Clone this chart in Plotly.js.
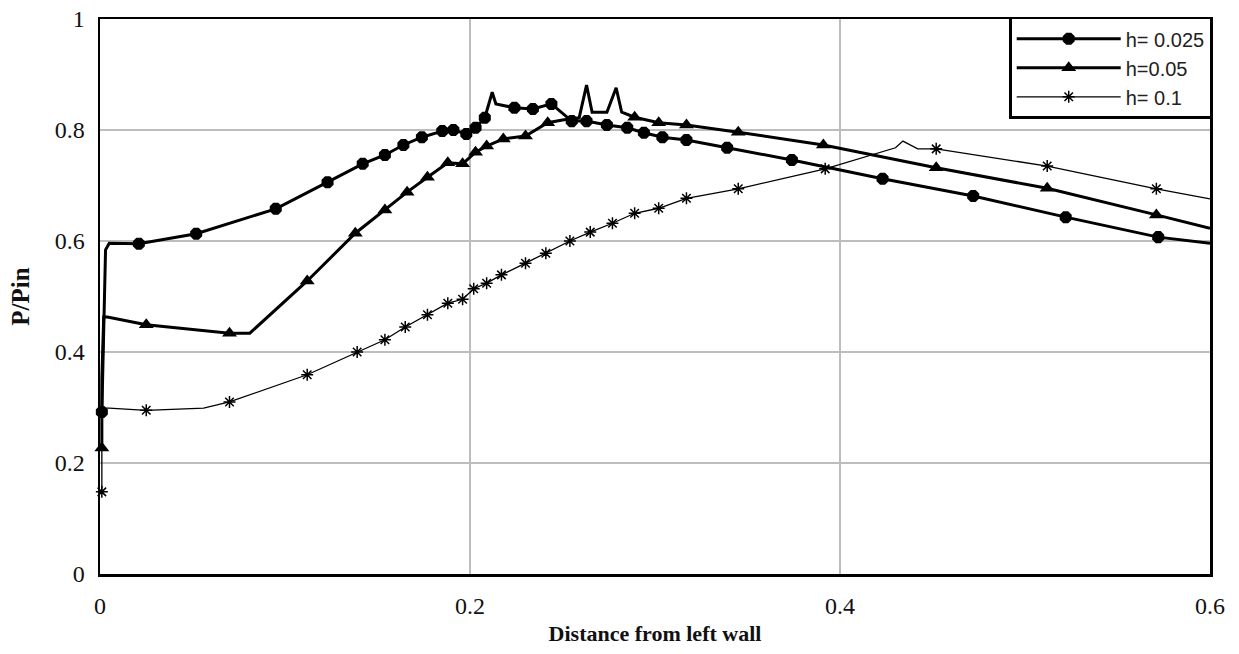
<!DOCTYPE html>
<html>
<head>
<meta charset="utf-8">
<script src="https://cdn.plot.ly/plotly-3.0.1.min.js"></script>
<style>html,body{margin:0;padding:0;background:#fff;}#chart{width:1239px;height:654px;}</style>
</head>
<body>
<div id="chart"></div>
<script>
// h = 0.025 : line path and marker points
const h025LineX = [0.001,0.002,0.003,0.005,0.021,0.052,0.095,0.123,0.142,0.154,0.164,0.174,0.185,0.191,0.198,0.203,0.208,0.212,0.214,0.224,0.234,0.244,0.255,0.263,0.274,0.285,0.294,0.304,0.317,0.339,0.374,0.423,0.472,0.522,0.572,0.6];
const h025LineY = [0.292,0.44,0.584,0.596,0.595,0.613,0.658,0.706,0.739,0.755,0.773,0.787,0.798,0.8,0.793,0.804,0.822,0.868,0.847,0.84,0.838,0.847,0.816,0.816,0.809,0.804,0.795,0.787,0.782,0.768,0.746,0.712,0.681,0.643,0.607,0.596];
const h025MarkX = [0.001,0.021,0.052,0.095,0.123,0.142,0.154,0.164,0.174,0.185,0.191,0.198,0.203,0.208,0.224,0.234,0.244,0.255,0.263,0.274,0.285,0.294,0.304,0.317,0.339,0.374,0.423,0.472,0.522,0.572];
const h025MarkY = [0.292,0.595,0.613,0.658,0.706,0.739,0.755,0.773,0.787,0.798,0.8,0.793,0.804,0.822,0.84,0.838,0.847,0.816,0.816,0.809,0.804,0.795,0.787,0.782,0.768,0.746,0.712,0.681,0.643,0.607];

// h = 0.05
const h05LineX = [0.001,0.001,0.002,0.004,0.025,0.07,0.081,0.112,0.138,0.154,0.166,0.177,0.188,0.196,0.203,0.209,0.218,0.23,0.242,0.25,0.259,0.263,0.266,0.274,0.279,0.282,0.289,0.302,0.317,0.345,0.391,0.452,0.512,0.571,0.6];
const h05LineY = [0.227,0.35,0.463,0.463,0.449,0.434,0.434,0.528,0.614,0.656,0.688,0.715,0.741,0.739,0.76,0.771,0.784,0.789,0.813,0.818,0.822,0.881,0.832,0.832,0.876,0.832,0.823,0.813,0.809,0.796,0.773,0.732,0.695,0.647,0.623];
const h05MarkX = [0.001,0.025,0.07,0.112,0.138,0.154,0.166,0.177,0.188,0.196,0.203,0.209,0.218,0.23,0.242,0.289,0.302,0.317,0.345,0.391,0.452,0.512,0.571];
const h05MarkY = [0.227,0.449,0.434,0.528,0.614,0.656,0.688,0.715,0.741,0.739,0.76,0.771,0.784,0.789,0.813,0.823,0.813,0.809,0.796,0.773,0.732,0.695,0.647];

// h = 0.1
const h1LineX = [0.001,0.001,0.005,0.025,0.056,0.07,0.112,0.139,0.154,0.165,0.177,0.188,0.196,0.202,0.209,0.217,0.23,0.241,0.254,0.265,0.277,0.289,0.302,0.317,0.345,0.392,0.43,0.434,0.442,0.452,0.512,0.571,0.6];
const h1LineY = [0.148,0.299,0.299,0.295,0.299,0.31,0.359,0.4,0.422,0.445,0.467,0.488,0.495,0.514,0.524,0.539,0.56,0.578,0.6,0.616,0.632,0.65,0.659,0.677,0.694,0.73,0.768,0.78,0.766,0.766,0.735,0.694,0.676];
const h1MarkX = [0.001,0.025,0.07,0.112,0.139,0.154,0.165,0.177,0.188,0.196,0.202,0.209,0.217,0.23,0.241,0.254,0.265,0.277,0.289,0.302,0.317,0.345,0.392,0.452,0.512,0.571];
const h1MarkY = [0.148,0.295,0.31,0.359,0.4,0.422,0.445,0.467,0.488,0.495,0.514,0.524,0.539,0.56,0.578,0.6,0.616,0.632,0.65,0.659,0.677,0.694,0.73,0.766,0.735,0.694];

const seriesNames = ['h= 0.025', 'h=0.05', 'h= 0.1'];
const xTicks = [0, 0.2, 0.4, 0.6];
const yTicks = [0, 0.2, 0.4, 0.6, 0.8, 1];

const styles = [
  {w: 3, sym: 'octagon', size: 13, lw: 0},
  {w: 3, sym: 'triangle-up', size: 13, lw: 0},
  {w: 1.3, sym: 'asterisk-open', size: 10, lw: 1.5}
];
const series = [
  [h025LineX, h025LineY, h025MarkX, h025MarkY],
  [h05LineX, h05LineY, h05MarkX, h05MarkY],
  [h1LineX, h1LineY, h1MarkX, h1MarkY]
];

const traces = [];
series.forEach((s, i) => {
  const st = styles[i];
  traces.push({x: s[0], y: s[1], mode: 'lines', type: 'scatter', showlegend: false,
    line: {color: '#000', width: st.w}, cliponaxis: false, hoverinfo: 'skip'});
  traces.push({x: s[2], y: s[3], mode: 'markers', type: 'scatter', showlegend: false,
    marker: {symbol: st.sym, size: st.size, color: '#000', line: {color: '#000', width: st.lw}}, cliponaxis: false});
});
series.forEach((s, i) => {
  const st = styles[i];
  traces.push({x: [null], y: [null], mode: 'lines+markers', type: 'scatter', name: seriesNames[i],
    line: {color: '#000', width: st.w},
    marker: {symbol: st.sym, size: st.size, color: '#000', line: {color: '#000', width: st.lw}}});
});

const serif = 'Liberation Serif, Times New Roman, serif';
const layout = {
  width: 1239, height: 654,
  margin: {l: 100, r: 29, t: 19, b: 80},
  paper_bgcolor: '#fff', plot_bgcolor: '#fff',
  showlegend: true,
  legend: {x: 1.002, xanchor: 'right', y: 1.004, yanchor: 'top', bgcolor: '#fff',
    bordercolor: '#000', borderwidth: 2.5, font: {family: 'Liberation Sans, Arial, sans-serif', size: 20, color: '#222'},
    itemwidth: 104, tracegroupgap: 0},
  xaxis: {range: [0, 0.6], tickvals: xTicks, ticktext: xTicks.map(String), showgrid: true, gridcolor: '#bdbdbd', gridwidth: 1.5,
    zeroline: false, showline: true, linecolor: '#000', linewidth: 2.5, mirror: true, ticks: '',
    ticklabelstandoff: 9,
    tickfont: {family: serif, size: 24, color: '#111'},
    title: {text: '<b>Distance from left wall</b>', font: {family: serif, size: 22, color: '#111'}, standoff: 8}},
  yaxis: {range: [0, 1], tickvals: yTicks, ticktext: yTicks.map(String), showgrid: true, gridcolor: '#bdbdbd', gridwidth: 1.5,
    zeroline: false, showline: true, linecolor: '#000', linewidth: 2.5, mirror: true, ticks: '',
    ticklabelstandoff: 8,
    tickfont: {family: serif, size: 24, color: '#111'},
    title: {text: '<b>P/Pin</b>', font: {family: serif, size: 25, color: '#111'}, standoff: 18}}
};

Plotly.newPlot('chart', traces, layout, {displayModeBar: false, staticPlot: true});
</script>
</body>
</html>
